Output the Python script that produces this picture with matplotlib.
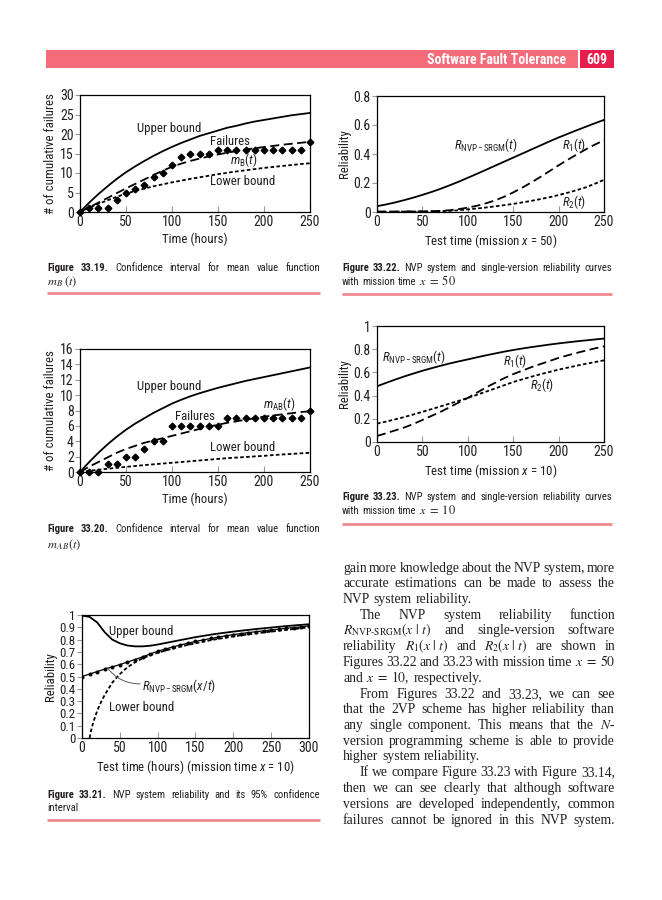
import re
import matplotlib
matplotlib.use('Agg')
import matplotlib.pyplot as plt
from matplotlib.patches import Rectangle
from matplotlib import font_manager as fm

# ---------- pick a condensed sans if one is installed ----------
_names = {f.name for f in fm.fontManager.ttflist}


def _is_cond(s):
    if isinstance(s, str):
        return 'condensed' in s or 'narrow' in s
    try:
        return int(s) < 500
    except Exception:
        return False


def pick_condensed():
    for p in ['Liberation Sans Narrow', 'Roboto Condensed', 'Arial Narrow',
              'Nimbus Sans Narrow', 'DejaVu Sans Condensed', 'Noto Sans Condensed',
              'Open Sans Condensed']:
        if p in _names:
            return p, 'normal', True
    for fam in ['Roboto', 'Noto Sans', 'DejaVu Sans', 'Open Sans']:
        for f in fm.fontManager.ttflist:
            if f.name == fam and _is_cond(f.stretch):
                return fam, 'condensed', True
    return 'Liberation Sans', 'normal', False


CFAM, CSTRETCH, COND = pick_condensed()
SANS = [CFAM, 'DejaVu Sans']
SERIF = ['Liberation Serif', 'DejaVu Serif']
plt.rcParams['font.family'] = SANS
plt.rcParams['font.stretch'] = CSTRETCH
plt.rcParams['mathtext.fontset'] = 'custom'
suffix = '' if CSTRETCH == 'normal' else ':stretch=condensed'
try:
    plt.rcParams['mathtext.rm'] = CFAM + suffix
    plt.rcParams['mathtext.it'] = CFAM + ':italic' + suffix
    plt.rcParams['mathtext.bf'] = CFAM + ':bold' + suffix
except Exception:
    plt.rcParams['mathtext.rm'] = CFAM
    plt.rcParams['mathtext.it'] = CFAM + ':italic'
    plt.rcParams['mathtext.bf'] = CFAM + ':bold'

K = 1.0 if COND else 0.88   # size factor when only a normal-width sans exists

# ---------------- data ----------------
# Figure 33.19
f19_t = list(range(0, 251, 10))
f19_upper = [0, 2.4, 4.6, 6.6, 8.5, 10.2, 11.7, 13.1, 14.4, 15.6, 16.7, 17.7, 18.6, 19.5,
             20.2, 20.9, 21.6, 22.1, 22.7, 23.2, 23.6, 24.0, 24.4, 24.8, 25.1, 25.4]
f19_mean = [0, 1.2, 2.4, 3.6, 4.85, 6.05, 7.2, 8.35, 9.5, 10.6, 11.6, 12.4, 13.1, 13.7,
            14.25, 14.75, 15.2, 15.6, 16.0, 16.35, 16.65, 16.95, 17.25, 17.5, 17.75, 18.0]
f19_lower = [0, 1.1, 2.1, 3.0, 3.9, 4.7, 5.4, 6.0, 6.6, 7.1, 7.6, 8.05, 8.5, 8.9, 9.3, 9.7,
             10.05, 10.4, 10.7, 11.0, 11.3, 11.55, 11.8, 12.05, 12.3, 12.5]
f19_fail = [0, 1, 1, 1, 3, 5, 6, 7, 9, 10, 12, 14, 15, 15, 15, 16, 16, 16, 16, 16, 16, 16,
            16, 16, 16, 18]

# Figure 33.20
f20_t = list(range(0, 251, 10))
f20_upper = [0, 1.3, 2.5, 3.6, 4.6, 5.5, 6.3, 7.0, 7.7, 8.3, 8.9, 9.4, 9.85, 10.25, 10.6,
             10.95, 11.25, 11.55, 11.85, 12.1, 12.35, 12.6, 12.85, 13.1, 13.35, 13.6]
f20_mean = [0, 0.7, 1.3, 1.9, 2.5, 3.0, 3.4, 3.8, 4.1, 4.4, 4.7, 5.0, 5.3, 5.6, 5.9, 6.15,
            6.4, 6.6, 6.8, 7.0, 7.2, 7.35, 7.5, 7.65, 7.8, 7.9]
f20_lower = [0, 0.15, 0.3, 0.42, 0.55, 0.67, 0.78, 0.9, 1.0, 1.1, 1.2, 1.3, 1.4, 1.5, 1.6,
             1.7, 1.8, 1.88, 1.95, 2.03, 2.1, 2.2, 2.28, 2.35, 2.43, 2.5]
f20_fail = [0, 0, 0, 1, 1, 2, 2, 3, 4, 4, 6, 6, 6, 6, 6, 6, 7, 7, 7, 7, 7, 7, 7, 7, 7, 8]

# Figure 33.22 (mission x = 50)
f22_t = list(range(0, 251, 10))
f22_nvp = [0.04, 0.052, 0.066, 0.082, 0.099, 0.118, 0.138, 0.16, 0.184, 0.209, 0.236, 0.263,
           0.291, 0.319, 0.347, 0.375, 0.403, 0.431, 0.459, 0.487, 0.514, 0.539, 0.564, 0.588,
           0.612, 0.635]
f22_r1 = [0.003, 0.003, 0.003, 0.003, 0.004, 0.004, 0.005, 0.008, 0.012, 0.02, 0.03, 0.043,
          0.06, 0.08, 0.105, 0.135, 0.168, 0.204, 0.242, 0.282, 0.322, 0.36, 0.397, 0.432,
          0.465, 0.495]
f22_r2 = [0.002, 0.002, 0.002, 0.003, 0.003, 0.004, 0.005, 0.006, 0.008, 0.012, 0.018, 0.024,
          0.031, 0.039, 0.047, 0.056, 0.066, 0.077, 0.089, 0.102, 0.117, 0.133, 0.151, 0.17,
          0.195, 0.222]

# Figure 33.23 (mission x = 10)
f23_t = list(range(0, 251, 10))
f23_nvp = [0.48, 0.51, 0.538, 0.565, 0.59, 0.614, 0.636, 0.657, 0.677, 0.695, 0.712, 0.73,
           0.747, 0.763, 0.779, 0.793, 0.806, 0.818, 0.829, 0.84, 0.85, 0.859, 0.868, 0.876,
           0.884, 0.892]
f23_r1 = [0.052, 0.075, 0.1, 0.125, 0.155, 0.19, 0.225, 0.26, 0.3, 0.34, 0.38, 0.425, 0.47,
          0.51, 0.55, 0.585, 0.615, 0.645, 0.672, 0.698, 0.725, 0.747, 0.768, 0.788, 0.807,
          0.825]
f23_r2 = [0.158, 0.176, 0.195, 0.215, 0.237, 0.26, 0.283, 0.307, 0.331, 0.355, 0.38, 0.407,
          0.434, 0.461, 0.489, 0.517, 0.54, 0.563, 0.584, 0.604, 0.624, 0.641, 0.658, 0.674,
          0.689, 0.704]

# Figure 33.21
f21_t = list(range(0, 301, 10))
f21_upper = [0.995, 0.985, 0.94, 0.86, 0.8, 0.77, 0.752, 0.745, 0.745, 0.75, 0.76, 0.772,
             0.784, 0.796, 0.808, 0.82, 0.83, 0.84, 0.849, 0.857, 0.865, 0.872, 0.879, 0.886,
             0.892, 0.898, 0.904, 0.91, 0.915, 0.92, 0.925]
f21_nvp = [0.5, 0.52, 0.54, 0.56, 0.578, 0.597, 0.617, 0.638, 0.66, 0.683, 0.705, 0.723, 0.74,
           0.756, 0.771, 0.785, 0.797, 0.809, 0.82, 0.831, 0.841, 0.849, 0.857, 0.864, 0.871,
           0.878, 0.885, 0.892, 0.898, 0.904, 0.912]
f21_lt = [10, 12, 15, 20, 25, 30, 40, 50, 60, 70, 80, 90, 100, 110, 120, 130, 140, 150, 160,
          170, 180, 190, 200, 210, 220, 230, 240, 250, 260, 270, 280, 290, 300]
f21_lower = [0, 0.06, 0.13, 0.22, 0.29, 0.35, 0.45, 0.52, 0.575, 0.615, 0.648, 0.672, 0.692,
             0.71, 0.727, 0.743, 0.757, 0.77, 0.783, 0.795, 0.806, 0.816, 0.826, 0.835, 0.843,
             0.851, 0.858, 0.865, 0.872, 0.879, 0.886, 0.893, 0.9]

# ---------------- figure ----------------
W, H = 662, 900
fig = plt.figure(figsize=(W / 100, H / 100), dpi=100)
page = fig.add_axes([0, 0, 1, 1])
page.set_xlim(0, W)
page.set_ylim(H, 0)
page.axis('off')
renderer = fig.canvas.get_renderer()

INK = '#231f20'
PINK = '#f46b79'
TICK_FS = 10 * K
LAB_FS = 9.3 * K
TXT_FS = 9.2 * K


def chart(l, t, r, b):
    ax = fig.add_axes([l / W, 1 - b / H, (r - l) / W, (b - t) / H])
    for s in ax.spines.values():
        s.set_linewidth(0.9)
        s.set_color('black')
    ax.tick_params(axis='x', direction='in', length=4, width=0.8, color='0.6',
                   pad=2.5, labelsize=TICK_FS, labelcolor=INK)
    ax.tick_params(axis='y', direction='out', length=3.5, width=0.8, color='0.6',
                   pad=1.0, labelsize=TICK_FS, labelcolor=INK)
    return ax


LW = 1.3
SOLID = dict(color='black', lw=LW, ls='-')
DASH = dict(color='black', lw=LW, ls=(0, (5, 2.5)))
DOT = dict(color='black', lw=LW, ls=(0, (2, 1.3)))
LBL = dict(fontsize=TXT_FS, color=INK, va='center', ha='left')

# --- Figure 33.19 ---
ax = chart(80, 95, 310, 212)
ax.plot(f19_t, f19_upper, **SOLID)
ax.plot(f19_t, f19_mean, **DASH)
ax.plot(f19_t, f19_lower, **DOT)
ax.plot(f19_t, f19_fail, ls='none', marker='D', ms=3.4, color='black', clip_on=False)
ax.set_xlim(0, 250); ax.set_ylim(0, 30)
ax.set_xticks([0, 50, 100, 150, 200, 250]); ax.set_yticks([0, 5, 10, 15, 20, 25, 30])
ax.set_xlabel('Time (hours)', fontsize=LAB_FS, labelpad=2, color=INK)
ax.set_ylabel('# of cumulative failures', fontsize=LAB_FS, labelpad=2, color=INK)
ax.text(62, 21.4, 'Upper bound', **LBL)
ax.text(141, 18.0, 'Failures', **LBL)
ax.text(163, 13.4, r'$\mathit{m}_{\mathrm{B}}(\mathit{t})$', **LBL)
ax.text(141, 7.8, 'Lower bound', **LBL)

# --- Figure 33.20 ---
ax = chart(80, 349, 310, 472)
ax.plot(f20_t, f20_upper, **SOLID)
ax.plot(f20_t, f20_mean, **DASH)
ax.plot(f20_t, f20_lower, **DOT)
ax.plot(f20_t, f20_fail, ls='none', marker='D', ms=3.4, color='black', clip_on=False)
ax.set_xlim(0, 250); ax.set_ylim(0, 16)
ax.set_xticks([0, 50, 100, 150, 200, 250]); ax.set_yticks(list(range(0, 17, 2)))
ax.set_xlabel('Time (hours)', fontsize=LAB_FS, labelpad=2, color=INK)
ax.set_ylabel('# of cumulative failures', fontsize=LAB_FS, labelpad=2, color=INK)
ax.text(62, 11.1, 'Upper bound', **LBL)
ax.text(103, 7.2, 'Failures', **LBL)
ax.text(199, 8.8, r'$\mathit{m}_{\mathrm{AB}}(\mathit{t})$', **LBL)
ax.text(141, 3.2, 'Lower bound', **LBL)

# --- Figure 33.22 ---
ax = chart(377, 96, 604, 212)
ax.plot(f22_t, f22_nvp, **SOLID)
ax.plot(f22_t, f22_r1, **DASH)
ax.plot(f22_t, f22_r2, **DOT)
ax.set_xlim(0, 250); ax.set_ylim(0, 0.8)
ax.set_xticks([0, 50, 100, 150, 200, 250]); ax.set_yticks([0, 0.2, 0.4, 0.6, 0.8])
ax.set_yticklabels(['0', '0.2', '0.4', '0.6', '0.8'])
ax.set_xlabel(r'Test time (mission $\mathit{x}$ = 50)', fontsize=LAB_FS, labelpad=2, color=INK)
ax.set_ylabel('Reliability', fontsize=LAB_FS, labelpad=2, color=INK)
ax.text(85, 0.46, r'$\mathit{R}_{\mathrm{NVP-SRGM}}(\mathit{t})$', **LBL)
ax.text(204, 0.46, r'$\mathit{R}_{1}(\mathit{t})$', **LBL)
ax.text(204, 0.069, r'$\mathit{R}_{2}(\mathit{t})$', **LBL)

# --- Figure 33.23 ---
ax = chart(377, 326, 604, 442)
ax.plot(f23_t, f23_nvp, **SOLID)
ax.plot(f23_t, f23_r1, **DASH)
ax.plot(f23_t, f23_r2, **DOT)
ax.set_xlim(0, 250); ax.set_ylim(0, 1)
ax.set_xticks([0, 50, 100, 150, 200, 250]); ax.set_yticks([0, 0.2, 0.4, 0.6, 0.8, 1])
ax.set_yticklabels(['0', '0.2', '0.4', '0.6', '0.8', '1'])
ax.set_xlabel(r'Test time (mission $\mathit{x}$ = 10)', fontsize=LAB_FS, labelpad=2, color=INK)
ax.set_ylabel('Reliability', fontsize=LAB_FS, labelpad=2, color=INK)
ax.text(5, 0.73, r'$\mathit{R}_{\mathrm{NVP-SRGM}}(\mathit{t})$', **LBL)
ax.text(139, 0.70, r'$\mathit{R}_{1}(\mathit{t})$', **LBL)
ax.text(169, 0.49, r'$\mathit{R}_{2}(\mathit{t})$', **LBL)

# --- Figure 33.21 ---
ax = chart(82, 615, 309, 738)
ax.plot(f21_t, f21_upper, **SOLID)
ax.plot(f21_t, f21_nvp, color='black', lw=0.9, marker='o', ms=1.9)
ax.plot(f21_lt, f21_lower, **DOT)
ax.set_xlim(0, 300); ax.set_ylim(0, 1)
ax.set_xticks(list(range(0, 301, 50)))
ax.set_yticks([i / 10 for i in range(11)])
ax.set_yticklabels(['0'] + ['0.%d' % i for i in range(1, 10)] + ['1'])
ax.tick_params(axis='y', labelsize=TICK_FS * 0.93)
ax.set_xlabel(r'Test time (hours) (mission time $\mathit{x}$ = 10)', fontsize=LAB_FS,
              labelpad=2, color=INK)
ax.set_ylabel('Reliability', fontsize=LAB_FS, labelpad=2, color=INK)
ax.text(36, 0.865, 'Upper bound', **LBL)
ax.text(36, 0.25, 'Lower bound', **LBL)
ax.text(79, 0.424, r'$\mathit{R}_{\mathrm{NVP-SRGM}}(\mathit{x/t})$', **LBL)
ax.annotate('', xy=(33, 0.575), xytext=(77, 0.44),
            arrowprops=dict(arrowstyle='-', color='0.35', lw=0.7,
                            connectionstyle='arc3,rad=-0.25', shrinkA=0, shrinkB=0))

# ---------------- page furniture ----------------
page.add_patch(Rectangle((46, 50), 532, 18, color=PINK, lw=0))
page.add_patch(Rectangle((580, 50), 34, 18, color='#e61e4c', lw=0))
page.text(566, 59.5, 'Software Fault Tolerance', color='white', fontsize=10 * K,
          fontweight='bold', ha='right', va='center')
page.text(597, 59.5, '609', color='white', fontsize=10 * K, fontweight='bold',
          ha='center', va='center')

TOKEN = re.compile(r'(?:\$[^$]*\$|[^\s$])+')


def set_line(tokens, x0, x1, y, justify):
    """tokens: list of (string, props). y is the baseline in px."""
    objs, widths = [], []
    for s, pr in tokens:
        t = page.text(0, round(y), s, ha='left', va='baseline', **pr)
        objs.append(t)
        widths.append(t.get_window_extent(renderer).width)
    n = len(objs)
    fs = tokens[0][1].get('fontsize', 10)
    space = fs * 100 / 72 * 0.26
    if justify and n > 1:
        gap = max((x1 - x0 - sum(widths)) / (n - 1), 1.5)
    else:
        gap = space
    x = x0
    for t, w in zip(objs, widths):
        t.set_x(x)
        x += w + gap


CAP_FS = 7.7 if COND else 6.7
CAP_R = dict(family=SANS, fontsize=CAP_FS, color=INK, math_fontfamily='stix')
CAP_B = dict(CAP_R, fontweight='bold')
CAP_M = dict(CAP_R, fontsize=CAP_FS + 1.2)


def caption(x0, x1, yb1, yb2, num, rest, line2, pink_y=None):
    toks = [('Figure', CAP_B), (num, CAP_B)] + [(w, CAP_R) for w in TOKEN.findall(rest)]
    set_line(toks, x0, x1, yb1, True)
    set_line([(w, CAP_M if w.startswith('$') else CAP_R) for w in TOKEN.findall(line2)],
             x0, x1, yb2, False)
    if pink_y is not None:
        page.plot([x0, x1], [pink_y, pink_y], color='#f08a92', lw=2.0,
                  solid_capstyle='butt')


caption(47, 320, 271, 285, '33.19.', 'Confidence interval for mean value function',
        r'$m_{\,B}\,(t)$', 293)
caption(342, 612, 271, 285, '33.22.', 'NVP system and single-version reliability curves',
        r'with mission time $x\;=\;50$', 294)
caption(342, 612, 500, 514, '33.23.', 'NVP system and single-version reliability curves',
        r'with mission time $x\;=\;10$', 524)
caption(47, 320, 532, 548, '33.20.', 'Confidence interval for mean value function',
        r'$m_{\,AB}(t)$', None)
caption(47, 320, 798, 811, '33.21.', 'NVP system reliability and its 95% confidence',
        'interval', 820)

BODY = dict(family=SERIF, fontsize=9.8, color=INK, math_fontfamily='stix',
            fontstretch='normal')
body_lines = [
    ("gain more knowledge about the NVP system, more", 0, True),
    ("accurate estimations can be made to assess the", 0, True),
    ("NVP system reliability.", 0, False),
    ("The NVP system reliability function", 17, True),
    (r"$R_{\mathrm{NVP}\text{-}\mathrm{SRGM}}(x\ |\ t)$ and single-version software", 0, True),
    (r"reliability $R_1(x\ |\ t)$ and $R_2(x\ |\ t)$ are shown in", 0, True),
    (r"Figures 33.22 and 33.23 with mission time $x\;=\;50$", 0, True),
    (r"and $x\;=\;10$, respectively.", 0, False),
    ("From Figures 33.22 and 33.23, we can see", 17, True),
    ("that the 2VP scheme has higher reliability than", 0, True),
    (r"any single component. This means that the $N$-", 0, True),
    ("version programming scheme is able to provide", 0, True),
    ("higher system reliability.", 0, False),
    ("If we compare Figure 33.23 with Figure 33.14,", 17, True),
    ("then we can see clearly that although software", 0, True),
    ("versions are developed independently, common", 0, True),
    ("failures cannot be ignored in this NVP system.", 0, True),
]
y0, dy = 571.5, 15.75
for i, (s, ind, just) in enumerate(body_lines):
    set_line([(w, BODY) for w in TOKEN.findall(s)], 343 + ind, 615, y0 + i * dy, just)

fig.savefig('out.png', dpi=100, facecolor='white')
